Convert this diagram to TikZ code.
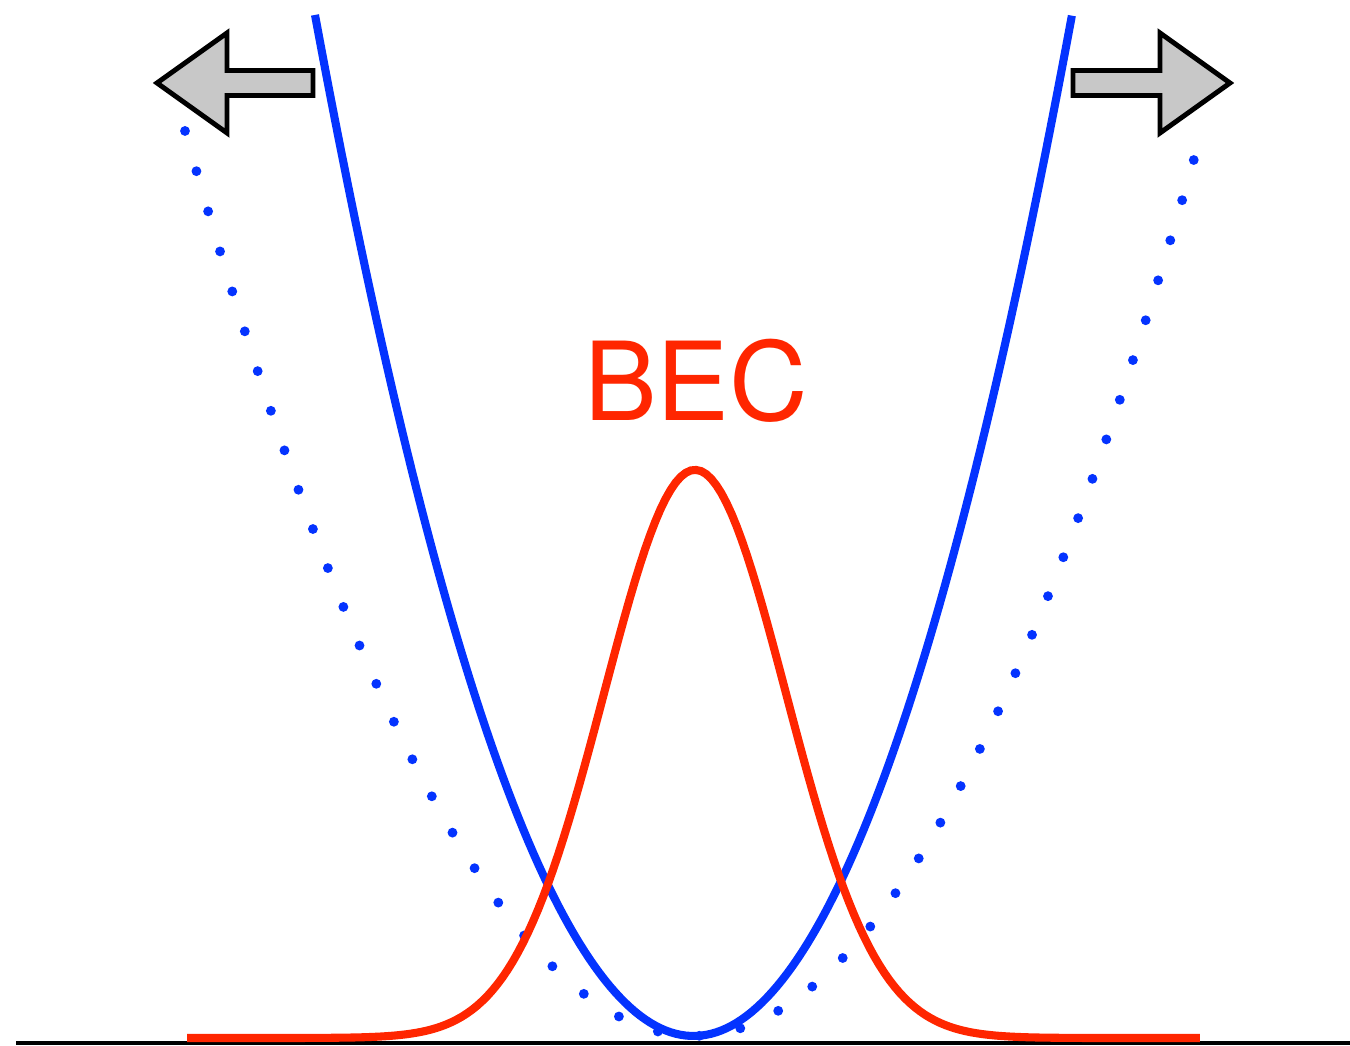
\documentclass[tikz,border=0pt]{standalone}
\usepackage{fontspec}
\setsansfont{TeX Gyre Heros}
\usepackage{tikz}
\definecolor{KeyBlue}{HTML}{0433FF}
\definecolor{KeyRed}{HTML}{FF2600}
\definecolor{KeyGrey}{HTML}{C8C8C8}
\definecolor{KeyBlack}{HTML}{000000}
\tikzset{
    % Ground line
    groundline/.style={
        draw=KeyBlack,
        line width=1.2pt
    },
    % Tight trap (solid)
    tighttrap/.style={
        draw=KeyBlue,
        line width=2.3pt
    },
    % Relaxed trap (dotted)
    widetrap/.style={
        draw=KeyBlue,
        line width=2.8pt,
        line cap=round,
        dash pattern=on 0pt off 11.9pt
    },
    % Condensate density
    becprofile/.style={
        draw=KeyRed,
        line width=2.3pt
    },
    % Block arrow
    pusharrow/.style={
        draw=KeyBlack,
        fill=KeyGrey,
        line width=1.4pt,
        line join=miter
    },
    % Label
    beclabel/.style={
        text=KeyRed,
        font=\sffamily\fontsize{31}{36}\selectfont,
        inner sep=0pt,
        anchor=base
    }
}
\begin{document}
\begin{tikzpicture}
        \useasboundingbox (0,0) rectangle (13.5,10.46);

        % Ground line
        \draw[groundline] (0.16,0.03) -- (13.5,0.03);

        % Relaxed trap
        \draw[widetrap] plot[domain=-5.085:5.035, samples=150] ({6.935+\x},{0.10+0.35*\x*\x});

        % Tight trap
        \draw[tighttrap] plot[domain=-3.785:3.785, samples=150] ({6.935+\x},{0.10+0.7127*\x*\x});

        % Condensate
        \draw[becprofile] plot[domain=-5.08:5.05, samples=200] ({6.95+\x},{0.08+5.68*exp(-\x*\x/1.6562)});
        \node[beclabel] (bec) at (6.96,6.25) {BEC};

        % Arrows
        \draw[pusharrow] (1.57,9.63) -- (2.27,10.13) -- (2.27,9.755) -- (3.13,9.755)
            -- (3.13,9.505) -- (2.27,9.505) -- (2.27,9.13) -- cycle;
        \draw[pusharrow] (12.30,9.63) -- (11.60,10.13) -- (11.60,9.755) -- (10.73,9.755)
            -- (10.73,9.505) -- (11.60,9.505) -- (11.60,9.13) -- cycle;
\end{tikzpicture}
\end{document}
